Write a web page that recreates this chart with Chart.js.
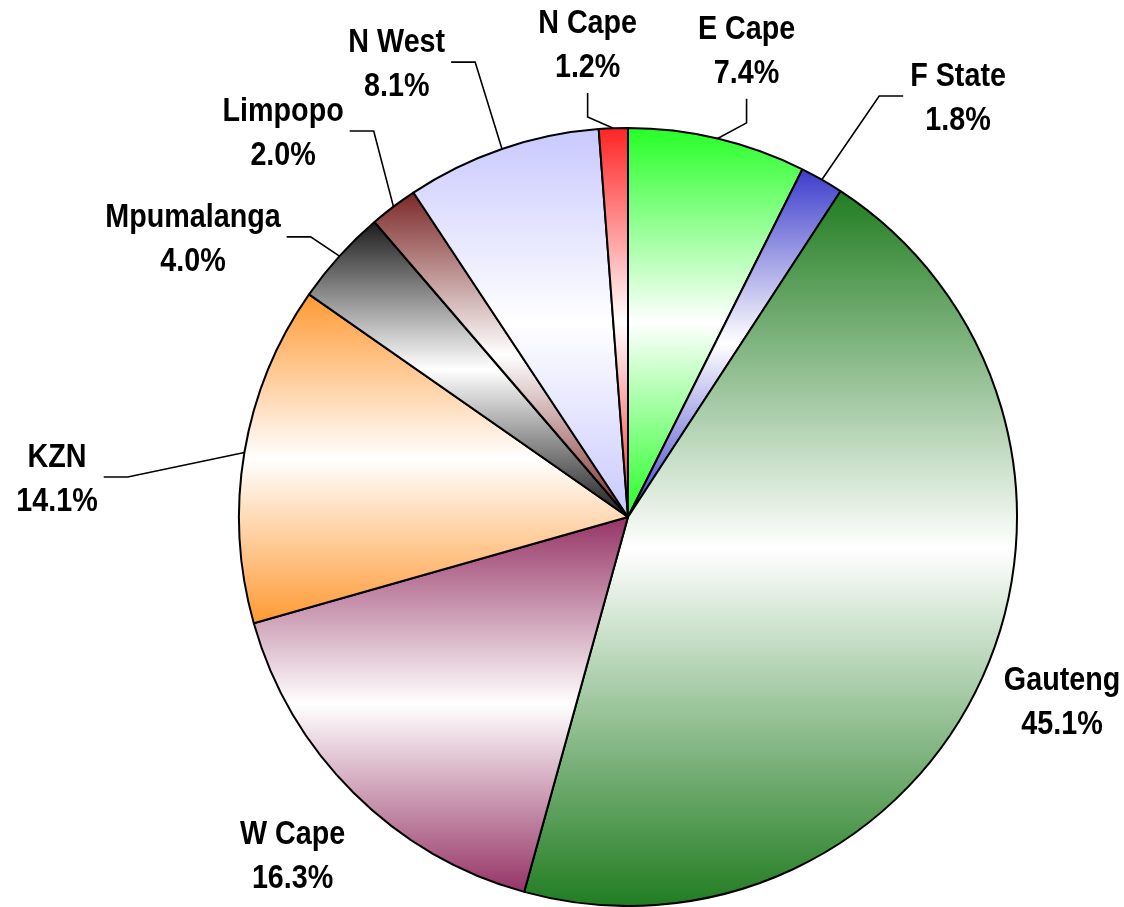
<!DOCTYPE html>
<html>
<head>
<meta charset="utf-8">
<title>Share by province</title>
<script src="https://cdn.jsdelivr.net/npm/chart.js@4.4.1/dist/chart.umd.min.js"></script>
<style>
  html, body { margin: 0; padding: 0; background: #fff; }
  #wrap { width: 1124px; height: 907px; }
</style>
</head>
<body>
<div id="wrap"><canvas id="pie"></canvas></div>
<script>
// slices run clockwise from 12 o'clock
const provinces = ["E Cape", "F State", "Gauteng", "W Cape", "KZN", "Mpumalanga", "Limpopo", "N West", "N Cape"]
const shares = [7.4, 1.8, 45.1, 16.3, 14.1, 4.0, 2.0, 8.1, 1.2]
const sliceColors = ["#26ff26", "#3c3ccc", "#217d21", "#963466", "#ff9933", "#1c1c1c", "#7c2828", "#c8c8ff", "#ff2424"]

// label placement: [bearing in degrees clockwise from 12 o'clock, distance in pie radii]
const labelSpots = [[14.3, 1.234], [38.3, 1.369], [113.2, 1.214], [224.6, 1.228], [273.7, 1.471], [302.5, 1.326], [318.0, 1.325], [332.9, 1.305], [355.1, 1.215]]

const FONT = "bold 33px 'Liberation Sans', Arial, sans-serif"
const SQUEEZE = 0.87 // poor man's Arial Narrow
const LINE = 44

// colour at top and bottom of each slice, white through the middle
const fadeFill = {
  id: "fadeFill",
  beforeDatasetsDraw(chart) {
    const ctx = chart.ctx
    chart.getDatasetMeta(0).data.forEach((arc, i) => {
      const { x, y, startAngle, endAngle, outerRadius } = arc.getProps(["x", "y", "startAngle", "endAngle", "outerRadius"], true)
      const angles = [startAngle, endAngle]
      ;[-Math.PI / 2, Math.PI / 2, 3 * Math.PI / 2].forEach((a) => {
        if (a > startAngle && a < endAngle) angles.push(a)
      })
      let top = y, bot = y
      angles.forEach((a) => {
        const py = y + Math.sin(a) * outerRadius
        top = Math.min(top, py)
        bot = Math.max(bot, py)
      })
      const grad = ctx.createLinearGradient(0, top, 0, bot)
      grad.addColorStop(0, sliceColors[i])
      grad.addColorStop(0.5, "#ffffff")
      grad.addColorStop(1, sliceColors[i])
      arc.options = Object.assign({}, arc.options, { backgroundColor: grad })
    })
  },
}

const outerLabels = {
  id: "outerLabels",
  afterDatasetsDraw(chart) {
    const ctx = chart.ctx
    ctx.save()
    ctx.font = FONT
    ctx.fillStyle = "#000"
    ctx.strokeStyle = "#000"
    ctx.lineWidth = 1.6
    ctx.textAlign = "center"
    ctx.textBaseline = "middle"
    chart.getDatasetMeta(0).data.forEach((arc, i) => {
      const { x, y, startAngle, endAngle, outerRadius: r } = arc.getProps(["x", "y", "startAngle", "endAngle", "outerRadius"], true)
      const [bearing, dist] = labelSpots[i]
      const b = bearing * Math.PI / 180
      const cx = x + Math.sin(b) * dist * r
      const cy = y - Math.cos(b) * dist * r
      const lines = [provinces[i], shares[i].toFixed(1) + "%"]
      lines.forEach((t, k) => {
        ctx.save()
        ctx.translate(cx, cy + (k - 0.5) * LINE)
        ctx.scale(SQUEEZE, 1)
        ctx.fillText(t, 0, 0)
        ctx.restore()
      })

      // leader line only when the label sits away from its slice
      const w = Math.max(...lines.map((t) => ctx.measureText(t).width)) * SQUEEZE
      const left = cx - w / 2, right = cx + w / 2
      const topY = cy - 34, botY = cy + 34
      const mid = (startAngle + endAngle) / 2
      const ex = x + Math.cos(mid) * r
      const ey = y + Math.sin(mid) * r
      const nx = Math.max(left, Math.min(ex, right))
      const ny = Math.max(topY, Math.min(ey, botY))
      if (Math.hypot(nx - ex, ny - ey) < 40) return

      ctx.beginPath()
      const nearTop = bearing < 15 || bearing > 345
      if (nearTop) {
        ctx.moveTo(cx, cy + 47)
        ctx.lineTo(cx, cy + 71)
      } else if (cx < x) {
        ctx.moveTo(right + 6, cy - 3)
        ctx.lineTo(right + 30, cy - 3)
      } else {
        ctx.moveTo(left - 7, cy - 3)
        ctx.lineTo(left - 31, cy - 3)
      }
      ctx.lineTo(ex, ey)
      ctx.stroke()
    })
    ctx.restore()
  },
}

new Chart(document.getElementById("pie"), {
  type: "pie",
  data: {
    labels: provinces,
    datasets: [{
      data: shares,
      backgroundColor: sliceColors,
      borderColor: "#000",
      borderWidth: 2,
      hoverOffset: 0,
    }],
  },
  options: {
    responsive: true,
    maintainAspectRatio: false,
    animation: false,
    layout: { padding: { top: 127, bottom: 0, left: 150, right: 18 } },
    plugins: {
      legend: { display: false },
      tooltip: { enabled: false },
    },
  },
  plugins: [fadeFill, outerLabels],
})
</script>
</body>
</html>
